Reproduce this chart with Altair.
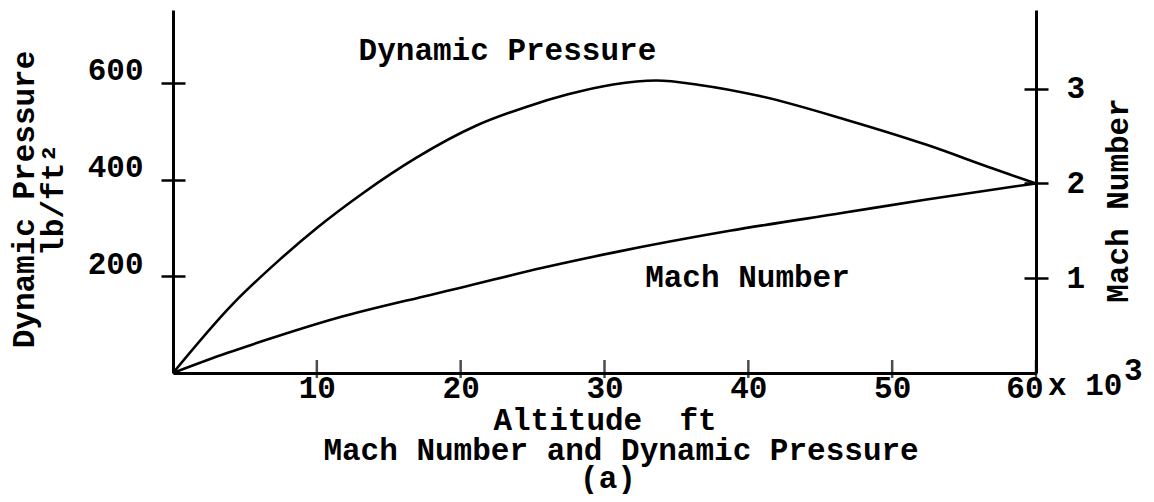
import altair as alt
import pandas as pd

# ---- data (altitude in thousands of ft) ----
alt_dp = [0, 4.1, 7.4, 10.0, 13.2, 16.9, 21.1, 24.5, 27.4, 30.6, 33.6, 36.6, 40.8, 46.9, 52.4, 57.0, 60]
dyn_pressure = [0, 141, 234, 300, 372, 445, 512, 550, 576, 597, 605, 596, 573, 523, 472, 423, 392]
alt_mach = [0, 3.75, 6.5, 11.4, 17.9, 20.0, 25.7, 30.6, 38.7, 46.6, 52.4, 58.6, 60]
mach_number = [0, 0.21, 0.35, 0.58, 0.824, 0.90, 1.11, 1.27, 1.50, 1.69, 1.83, 1.97, 2.0]

x_ticks = [10, 20, 30, 40, 50, 60]
dp_ticks = [200, 400, 600]
mach_ticks = [1, 2, 3]

curve_labels = ["Dynamic Pressure", "Mach Number"]
x_title = "Altitude\u00a0\u00a0ft"
caption_lines = ["Mach Number and Dynamic Pressure", "(a)"]
dp_title = "Dynamic Pressure"
dp_unit = "lb/ft\u00b2"
mach_title = "Mach Number"

# label anchor positions (data units) and pixel offsets
label_x = [23.25, 39.94]
label_y = [648, 178]
caption_x = [31.15, 30.24]
caption_dy = [87, 115]
unit_x, unit_y = -8.3, 358

# ---- style ----
FONT = "Liberation Mono"
FS = 31
W, H = 863, 363

xs = alt.Scale(domain=[0, 60], nice=False, zero=True)
ys_dp = alt.Scale(domain=[0, 751], nice=False, zero=True)
ys_m = alt.Scale(domain=[0, 3.83], nice=False, zero=True)

dp_df = pd.DataFrame({"alt": alt_dp, "dp": dyn_pressure})
m_df = pd.DataFrame({"alt": alt_mach, "mach": mach_number})
lab_df = pd.DataFrame({"x": label_x, "y": label_y, "t": curve_labels})
tick_df = pd.DataFrame({"v": x_ticks})
one = pd.DataFrame({"a": [0]})

line_kw = dict(color="black", strokeWidth=2.6, interpolate="monotone")
txt = dict(font=FONT, fontSize=FS, fontWeight="bold", color="black")

dp_line = alt.Chart(dp_df).mark_line(**line_kw).encode(
    x=alt.X("alt:Q", scale=xs, axis=alt.Axis(
        orient="bottom", values=x_ticks, ticks=False, tickSize=0, grid=False,
        domain=True, domainColor="black", domainWidth=3,
        labelFont=FONT, labelFontSize=FS, labelFontWeight="bold", labelColor="black",
        labelPadding=0, labelFlush=True, labelFlushOffset=7,
        title=x_title, titleFont=FONT, titleFontSize=FS, titleFontWeight="bold",
        titleColor="black", titleBaseline="alphabetic", titleY=56)),
    y=alt.Y("dp:Q", scale=ys_dp, axis=alt.Axis(
        orient="left", values=dp_ticks, ticks=False, tickSize=0, grid=False,
        domain=True, domainColor="black", domainWidth=3,
        labelFont=FONT, labelFontSize=FS, labelFontWeight="bold", labelColor="black",
        labelPadding=30, labelOffset=-12,
        title=dp_title, titleFont=FONT, titleFontSize=FS, titleFontWeight="bold",
        titleColor="black", titleAngle=270, titleAlign="center",
        titleBaseline="middle", titleX=-149, titleY=189)),
)

m_line = alt.Chart(m_df).mark_line(**line_kw).encode(
    x=alt.X("alt:Q", scale=xs, axis=None),
    y=alt.Y("mach:Q", scale=ys_m, axis=alt.Axis(
        orient="right", values=mach_ticks, ticks=False, tickSize=0, grid=False,
        domain=True, domainColor="black", domainWidth=3,
        labelFont=FONT, labelFontSize=FS, labelFontWeight="bold", labelColor="black",
        labelPadding=30,
        title=mach_title, titleFont=FONT, titleFontSize=FS, titleFontWeight="bold",
        titleColor="black", titleAngle=270, titleAlign="center", titleBaseline="middle",
        titleX=82, titleY=190)),
)

dp_cross = alt.Chart(dp_df).mark_line(strokeOpacity=0).encode(
    x=alt.X("alt:Q", scale=xs, axis=None),
    y=alt.Y("dp:Q", scale=ys_dp, axis=alt.Axis(
        orient="left", offset=-12, values=dp_ticks, labels=False, domain=False,
        tickSize=24, tickWidth=2.5, tickColor="black", grid=False, title=None)),
)

m_cross = alt.Chart(m_df).mark_line(strokeOpacity=0).encode(
    x=alt.X("alt:Q", scale=xs, axis=None),
    y=alt.Y("mach:Q", scale=ys_m, axis=alt.Axis(
        orient="right", offset=-12, values=mach_ticks, labels=False, domain=False,
        tickSize=24, tickWidth=2.5, tickColor="black", grid=False, title=None)),
)

x_tick_marks = alt.Chart(tick_df).mark_tick(
    orient="vertical", color="black", size=18, thickness=2.5, yOffset=-4
).encode(
    x=alt.X("v:Q", scale=xs, axis=None),
    y=alt.YDatum(0, scale=ys_dp, axis=None),
)

curve_text = alt.Chart(lab_df).mark_text(align="center", baseline="alphabetic", **txt).encode(
    x=alt.X("x:Q", scale=xs, axis=None),
    y=alt.Y("y:Q", scale=ys_dp, axis=None),
    text="t:N",
)

unit_text = alt.Chart(one).mark_text(align="center", baseline="middle", angle=270,
                                     text=dp_unit, **txt).encode(
    x=alt.XDatum(unit_x, scale=xs, axis=None),
    y=alt.YDatum(unit_y, scale=ys_dp, axis=None),
)

caption_layers = [
    alt.Chart(one).mark_text(align="center", baseline="alphabetic", dy=dy, text=t, **txt).encode(
        x=alt.XDatum(cx, scale=xs, axis=None),
        y=alt.YDatum(0, scale=ys_dp, axis=None),
    )
    for t, cx, dy in zip(caption_lines, caption_x, caption_dy)
]

mult_text = alt.Chart(one).mark_text(align="left", baseline="alphabetic", dx=12, dy=22,
                                     text="x 10", **txt).encode(
    x=alt.XDatum(60, scale=xs, axis=None),
    y=alt.YDatum(0, scale=ys_dp, axis=None),
)
exp_text = alt.Chart(one).mark_text(align="left", baseline="alphabetic", dx=88, dy=7,
                                    text="3", **txt).encode(
    x=alt.XDatum(60, scale=xs, axis=None),
    y=alt.YDatum(0, scale=ys_dp, axis=None),
)

chart = alt.layer(dp_line, m_line, dp_cross, m_cross, x_tick_marks, curve_text, unit_text,
                  *caption_layers, mult_text, exp_text).resolve_scale(
    x="independent", y="independent"
).properties(
    width=W, height=H,
    autosize=alt.AutoSizeParams(type="none"),
    padding={"left": 165, "top": 2, "right": 110, "bottom": 121},
    background="white",
).configure_view(stroke=None)

chart.save("out.html", embed_options={"renderer": "svg", "actions": False})
